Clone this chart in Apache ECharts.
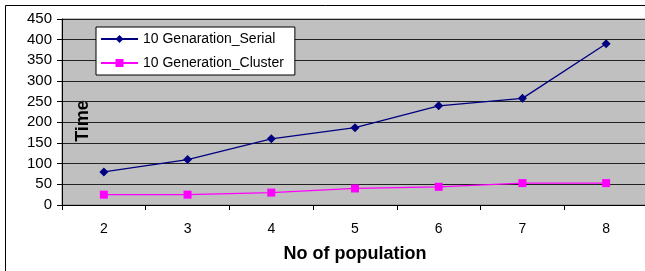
<!DOCTYPE html>
<html>
<head>
<meta charset="utf-8">
<script src="https://cdn.jsdelivr.net/npm/echarts@6/dist/echarts.min.js"></script>
<style>
  html, body { margin: 0; padding: 0; background: #fff; }
  #chart { width: 645px; height: 271px; }
</style>
</head>
<body>
<div id="chart"></div>
<script>
const populations = ['2', '3', '4', '5', '6', '7', '8']
const serialTimes = [80, 110, 160, 187, 240, 258, 390]
const clusterTimes = [25, 25, 30, 40, 44, 53, 53]

const myChart = echarts.init(document.getElementById('chart'))
const font = 'Arial, "Liberation Sans", sans-serif'

myChart.setOption({
  animation: false,
  backgroundColor: '#fff',
  textStyle: { fontFamily: font },
  grid: {
    left: 62,
    top: 19,
    right: -3,
    bottom: 66,
    outerBoundsMode: 'none',
    containLabel: false,
    show: true,
    backgroundColor: '#c0c0c0',
    borderColor: '#808080',
    borderWidth: 1
  },
  graphic: [
    {
      type: 'rect',
      shape: { x: 5.5, y: 5.5, width: 700, height: 300 },
      style: { fill: 'none', stroke: '#000', lineWidth: 1 },
      silent: true
    },
    {
      type: 'text',
      x: 83,
      y: 121,
      rotation: Math.PI / 2,
      style: {
        text: 'Time',
        font: 'bold 18px ' + font,
        fill: '#000',
        align: 'center',
        verticalAlign: 'middle'
      }
    }
  ],
  legend: {
    orient: 'vertical',
    left: 96,
    top: 27,
    padding: [5, 11, 5, 4],
    itemGap: 10,
    itemWidth: 37,
    itemHeight: 10,
    backgroundColor: '#fff',
    borderColor: '#000',
    borderWidth: 1,
    borderRadius: 0,
    textStyle: { fontSize: 14, color: '#000', fontFamily: font }
  },
  xAxis: {
    type: 'category',
    data: populations,
    boundaryGap: true,
    name: 'No of population',
    nameLocation: 'middle',
    nameGap: 40,
    nameTextStyle: { fontSize: 18, fontWeight: 'bold', color: '#000' },
    axisLine: { lineStyle: { color: '#000', width: 1 } },
    axisTick: { show: true, length: 5, lineStyle: { color: '#000' } },
    axisLabel: { fontSize: 14, color: '#000', margin: 17 },
    splitLine: { show: false }
  },
  yAxis: {
    type: 'value',
    min: 0,
    max: 450,
    interval: 50,
    axisLine: { show: true, lineStyle: { color: '#000', width: 1 } },
    axisTick: { show: true, length: 5, lineStyle: { color: '#000' } },
    axisLabel: { fontSize: 15, color: '#000', margin: 10 },
    splitLine: { show: true, lineStyle: { color: '#222', width: 1 } }
  },
  series: [
    {
      name: '10 Genaration_Serial',
      type: 'line',
      data: serialTimes,
      symbol: 'diamond',
      symbolSize: 9,
      color: '#000080',
      lineStyle: { color: '#000080', width: 1.3 },
      itemStyle: { color: '#000080' }
    },
    {
      name: '10 Generation_Cluster',
      type: 'line',
      data: clusterTimes,
      symbol: 'rect',
      symbolSize: 8,
      color: '#ff00ff',
      lineStyle: { color: '#ff00ff', width: 1.3 },
      itemStyle: { color: '#ff00ff' }
    }
  ]
})
</script>
</body>
</html>
